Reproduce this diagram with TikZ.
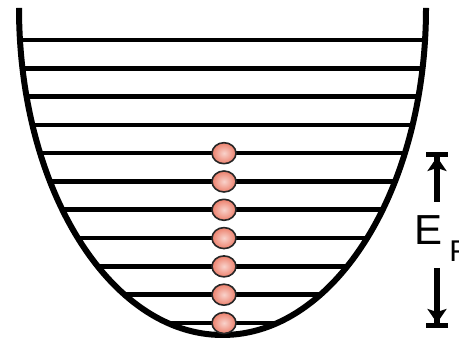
\documentclass[tikz,border=0pt]{standalone}
\usepackage{fontspec}
\setmainfont{Liberation Sans}
\usetikzlibrary{arrows.meta}
\definecolor{elec}{RGB}{236,128,108}
\begin{document}
\begin{tikzpicture}[x=0.5pt,y=-0.5pt,line join=round,
	level/.style={line width=2.3pt},
	well/.style={line width=3pt},
	electron/.style={draw=black!85,line width=0.8pt,inner color=elec!35,outer color=elec},
	efarrow/.style={line width=3pt,-{Stealth[length=7pt,width=9.5pt,inset=1.5pt]Bar[width=11pt,line width=2.5pt]}}]
	\def\cx{222.5}\def\ytop{8}\def\ra{203.5}\def\rb{327}
	\useasboundingbox (0,0) rectangle (459,340);
	\foreach \i in {0,...,10}{
		\pgfmathsetmacro\yl{40+28.3*\i}
		\pgfmathsetmacro\wl{\ra*sqrt(1-((\yl-\ytop)/\rb)^2)}
		\draw[level] (\cx-\wl,\yl)--(\cx+\wl,\yl);
	}
	\draw[well] (\cx-\ra,\ytop) arc[start angle=180,end angle=0,x radius=\ra,y radius=\rb];
	\foreach \i in {4,...,10}
		\draw[electron] (224,40+28.3*\i) ellipse[x radius=12,y radius=10.5];
	\coordinate (eftop) at (437,152);
	\coordinate (efup) at (437,202);
	\coordinate (efdn) at (437,268);
	\coordinate (efbot) at (437,328);
	\draw[efarrow] (efup)--(eftop);
	\draw[efarrow] (efdn)--(efbot);
	\node[anchor=base west,inner sep=0pt,font=\fontsize{21}{21}\selectfont] (ef) at (414,245)
		{E\hspace{3.5pt}\raisebox{-8.25pt}{\fontsize{15}{15}\selectfont F}};
\end{tikzpicture}
\end{document}
